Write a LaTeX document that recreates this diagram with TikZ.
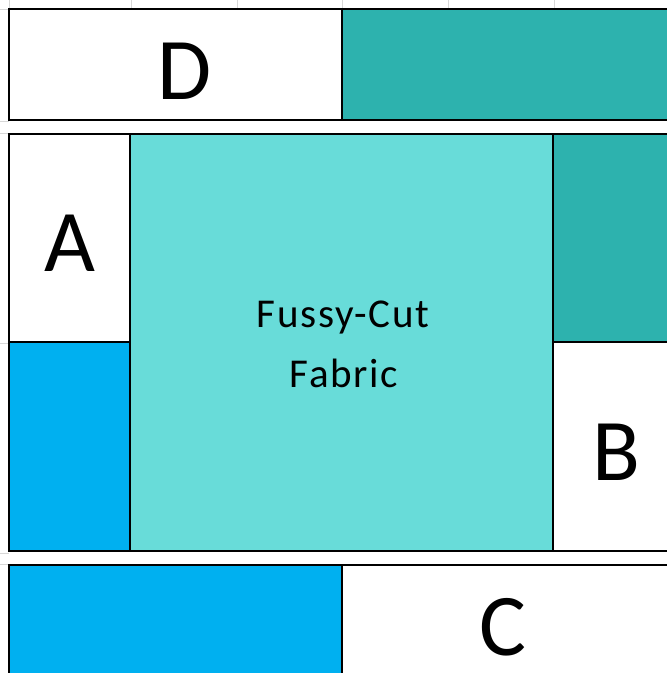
\documentclass[tikz,border=0pt]{standalone}
\usepackage{fontspec}
\setmainfont{Carlito}
\newfontfamily\fabricfont[LetterSpace=4]{Carlito}
\definecolor{darkteal}{RGB}{45,178,174}
\definecolor{fabricteal}{RGB}{104,220,217}
\definecolor{brightblue}{RGB}{0,176,240}
\definecolor{gridgray}{RGB}{215,215,215}
\tikzset{
  piece/.style={draw=black, line width=2.4pt},
  gridtick/.style={draw=gridgray, line width=1pt},
  bigletter/.style={inner sep=0pt, font=\fontsize{88}{100}\selectfont},
  fabrictext/.style={inner sep=0pt, anchor=base, font=\fabricfont\fontsize{41}{48}\selectfont}
}
\begin{document}
\begin{tikzpicture}[x=1pt, y=-1pt]
\useasboundingbox (0,0) rectangle (667,673);
\clip (0,0) rectangle (667,673);
\fill[white] (0,0) rectangle (667,673);
% faint spreadsheet gridlines
\foreach \gx in {9,131,237,342,448,554} \draw[gridtick] (\gx,0) -- (\gx,9);
\foreach \gy in {9,121,133,343,553,564} \draw[gridtick] (0,\gy) -- (9,\gy);
% top strip
\fill[white] (9,9) rectangle (342,120);
\fill[darkteal] (342,9) rectangle (690,120);
\draw[piece] (9,9) rectangle (342,120);
\draw[piece] (342,9) rectangle (690,120);
% middle block
\fill[white] (9,134) rectangle (130,342);
\fill[brightblue] (9,342) rectangle (130,551);
\fill[fabricteal] (130,134) rectangle (553,551);
\fill[darkteal] (553,134) rectangle (690,342);
\fill[white] (553,342) rectangle (690,551);
\draw[piece] (9,134) rectangle (130,342);
\draw[piece] (9,342) rectangle (130,551);
\draw[piece] (130,134) rectangle (553,551);
\draw[piece] (553,134) rectangle (690,342);
\draw[piece] (553,342) rectangle (690,551);
% bottom strip
\fill[brightblue] (9,565) rectangle (342,700);
\fill[white] (342,565) rectangle (690,700);
\draw[piece] (9,565) rectangle (342,700);
\draw[piece] (342,565) rectangle (690,700);
% labels
\node[bigletter] (D) at (185,71) {D};
\node[bigletter] (A) at (70,243) {A};
\node[bigletter] (B) at (616,452) {B};
\node[bigletter] (C) at (503,627) {C};
\node[fabrictext] (fussy) at (343,327) {Fussy-Cut};
\node[fabrictext] (fabric) at (344,387) {Fabric};
\end{tikzpicture}
\end{document}
